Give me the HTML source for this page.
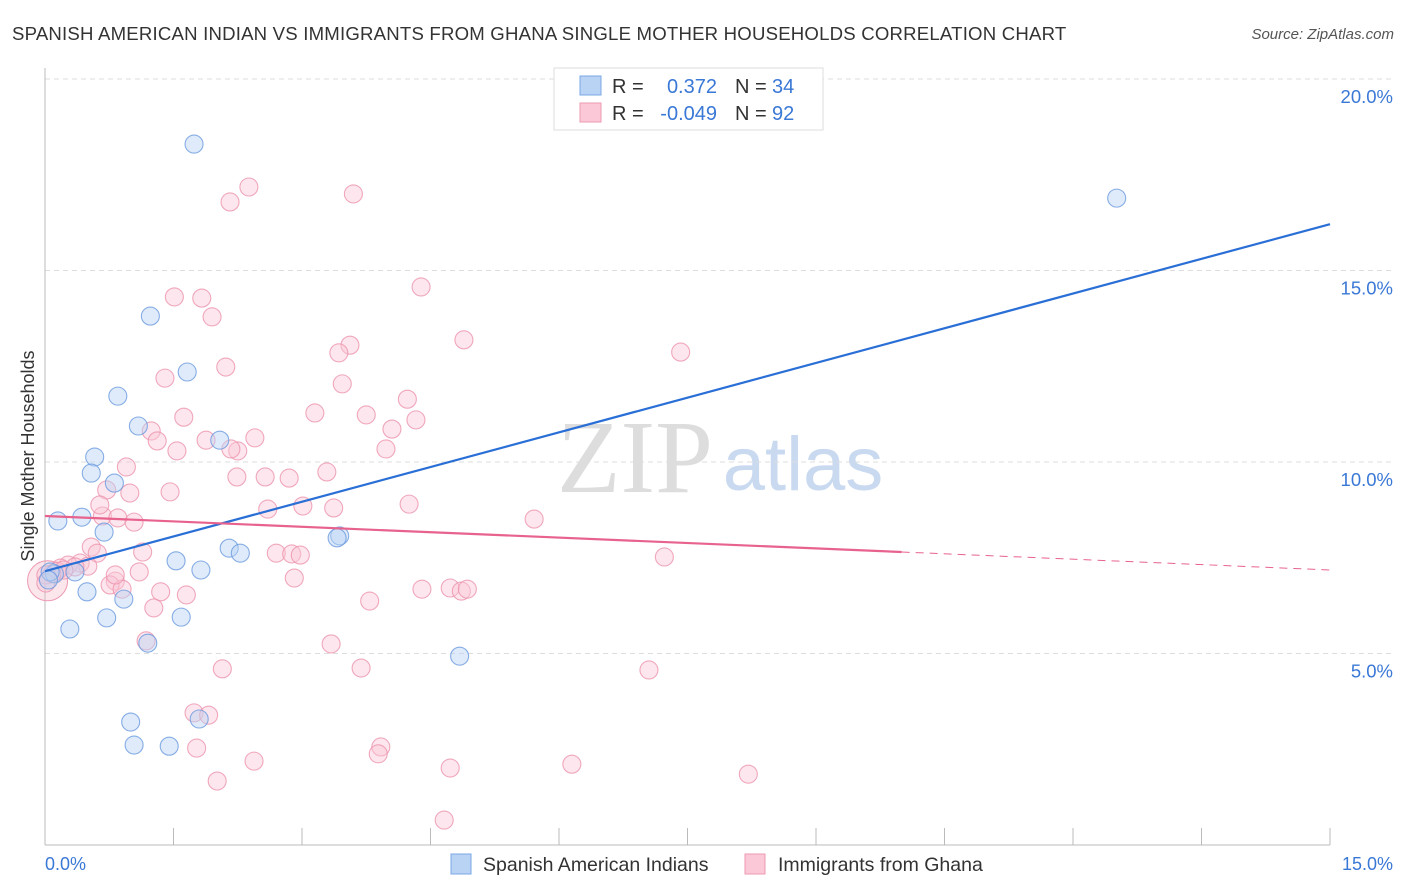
<!DOCTYPE html>
<html><head><meta charset="utf-8"><style>
body{margin:0;background:#fff;font-family:"Liberation Sans",sans-serif}
svg{display:block}
</style></head><body>
<svg id="chart" width="1406" height="892">
<text x="12" y="40" font-size="18.6" letter-spacing="0.2" fill="#333">SPANISH AMERICAN INDIAN VS IMMIGRANTS FROM GHANA SINGLE MOTHER HOUSEHOLDS CORRELATION CHART</text>
<text x="1394" y="39" font-size="15" fill="#555" font-style="italic" text-anchor="end">Source: ZipAtlas.com</text>
<text x="635" y="492" font-size="104" fill="#ddd" font-family="Liberation Serif" text-anchor="middle">ZIP</text>
<text x="803" y="490" font-size="76" fill="#c9d9f0" text-anchor="middle">atlas</text>
<g id="grid"></g><g id="axes"></g><g id="pts"></g><g id="trend"></g>
<text transform="translate(34,456) rotate(-90)" font-size="18" fill="#333" text-anchor="middle">Single Mother Households</text>
<text x="45" y="870" font-size="18" fill="#3a78d6">0.0%</text>
<text x="1393" y="870" font-size="18" fill="#3a78d6" text-anchor="end">15.0%</text>
<g>
<rect x="554" y="68" width="269" height="62" fill="#fff" stroke="#ddd"/>
<rect x="580" y="76" width="21" height="19" fill="#b9d3f5" stroke="#7aa7e6"/>
<rect x="580" y="103" width="21" height="19" fill="#fac8d6" stroke="#ee9ab3"/>
<text x="612" y="93" font-size="20" fill="#333">R =</text><text x="717" y="93" font-size="20" fill="#3a78d6" text-anchor="end">0.372</text>
<text x="735" y="93" font-size="20" fill="#333">N =</text><text x="772" y="93" font-size="20" fill="#3a78d6">34</text>
<text x="612" y="120" font-size="20" fill="#333">R =</text><text x="717" y="120" font-size="20" fill="#3a78d6" text-anchor="end">-0.049</text>
<text x="735" y="120" font-size="20" fill="#333">N =</text><text x="772" y="120" font-size="20" fill="#3a78d6">92</text>
</g>
<g>
<rect x="451" y="854" width="20" height="20" fill="#b9d3f5" stroke="#7aa7e6"/>
<text x="483" y="871" font-size="19.5" fill="#333">Spanish American Indians</text>
<rect x="745" y="854" width="20" height="20" fill="#fac8d6" stroke="#ee9ab3"/>
<text x="778" y="871" font-size="19.5" fill="#333">Immigrants from Ghana</text>
</g>
</svg>
<script>
const yTicks=[5,10,15,20];
const yTickLabels=["5.0%","10.0%","15.0%","20.0%"];
const xTicks=[0,1.5,3,4.5,6,7.5,9,10.5,12,13.5,15];
const blueX=[1.74,12.51,1.23,1.66,0.85,1.09,2.04,0.58,0.54,0.81,0.15,0.43,0.69,3.44,3.41,2.15,2.28,1.53,1.82,0.35,0.11,0.06,0.49,0.92,0.72,1.59,0.29,4.84,1.20,1.00,1.80,1.04,1.45,0.04];
const blueY=[18.30,16.89,13.81,12.35,11.72,10.94,10.57,10.13,9.71,9.45,8.46,8.56,8.17,8.07,8.02,7.75,7.62,7.42,7.18,7.13,7.08,7.13,6.61,6.42,5.93,5.95,5.64,4.93,5.27,3.21,3.29,2.61,2.58,6.92];
const pinkX=[2.38,2.16,3.60,4.39,1.51,1.83,1.95,4.89,3.56,3.43,7.42,2.11,1.40,3.47,4.23,3.15,1.62,3.75,4.33,1.24,4.05,1.88,2.45,1.31,1.54,2.25,2.17,3.98,0.95,3.29,2.24,2.57,2.85,0.72,0.99,1.46,4.25,2.60,3.01,3.37,5.71,0.67,0.85,1.04,1.14,0.54,0.61,2.70,2.88,2.98,7.23,0.41,0.50,0.27,0.18,0.14,0.35,0.22,0.08,1.10,2.91,0.82,0.76,0.90,1.35,1.65,1.27,4.40,4.73,4.86,4.93,3.79,1.18,3.34,2.07,3.69,7.05,1.74,1.91,1.77,3.92,3.89,2.44,4.73,6.15,2.01,8.21,4.66,0.01,0.01,0.64,0.82];
const pinkY=[17.18,16.79,17.00,14.57,14.31,14.28,13.79,13.19,13.05,12.85,12.87,12.48,12.19,12.04,11.64,11.28,11.17,11.23,11.10,10.81,10.86,10.57,10.63,10.55,10.29,10.29,10.34,10.34,9.87,9.74,9.61,9.61,9.58,9.27,9.19,9.22,8.90,8.77,8.85,8.80,8.51,8.59,8.54,8.43,7.65,7.78,7.62,7.62,7.60,7.57,7.52,7.36,7.28,7.31,7.23,7.15,7.26,7.18,7.08,7.13,6.97,6.89,6.79,6.68,6.61,6.53,6.19,6.68,6.71,6.63,6.68,6.37,5.33,5.25,4.60,4.62,4.57,3.45,3.39,2.53,2.56,2.38,2.19,2.01,2.11,1.67,1.85,0.65,7.05,6.84,8.88,7.05];
const blueTrend=[7.15,16.21];
const pinkTrend=[8.59,7.18];
const pinkSolidEnd=10;
const X=v=>45+v/15*1285, Y=v=>845-v/5*191.5;
const NS="http://www.w3.org/2000/svg";
function mk(par,tag,attrs){const e=document.createElementNS(NS,tag);for(const k in attrs)e.setAttribute(k,attrs[k]);document.getElementById(par).appendChild(e);return e;}
yTicks.forEach((t,i)=>{
 const g=mk('grid','line',{x1:45,x2:1393,y1:Y(t),y2:Y(t),stroke:'#ddd','stroke-dasharray':'5,4'});
 
 
 const l=mk('grid','text',{x:1393,y:Y(t)+24,'font-size':18.5,fill:'#3a78d6','text-anchor':'end'});
 l.textContent=yTickLabels[i];
 
 
});
const ax=mk('axes','line',{x1:45,x2:45,y1:68,y2:845,stroke:'#bbb'});


const bx=mk('axes','line',{x1:45,x2:1330,y1:845,y2:845,stroke:'#bbb'});


xTicks.forEach(t=>{
 const k=mk('axes','line',{x1:X(t),x2:X(t),y1:828,y2:845,stroke:'#bbb'});
 
 
});
function dots(xs,ys,fill,stroke,name){
 xs.forEach((x,i)=>{
  const c=mk('pts','circle',{cx:X(x),cy:Y(ys[i]),r:9,fill:fill,'fill-opacity':0.45,stroke:stroke,'stroke-opacity':0.8,'stroke-width':1.1});
  
  
 });
}
const big=mk('pts','circle',{cx:X(0.03),cy:Y(6.9),r:20,fill:'#f4b8c9','fill-opacity':0.35,stroke:'#ee9ab3'});


dots(pinkX,pinkY,'#fac8d6','#ec93ad','point-ghana');
dots(blueX,blueY,'#b9d3f5','#6a9ade','point-spanish');
const bt=mk('trend','line',{x1:X(0),y1:Y(blueTrend[0]),x2:X(15),y2:Y(blueTrend[1]),stroke:'#2a6fd6','stroke-width':2.2});


const pm=(pinkTrend[1]-pinkTrend[0])/15;
const pt=mk('trend','line',{x1:X(0),y1:Y(pinkTrend[0]),x2:X(pinkSolidEnd),y2:Y(pinkTrend[0]+pm*pinkSolidEnd),stroke:'#e8628e','stroke-width':2.2});


const pd=mk('trend','line',{x1:X(pinkSolidEnd),y1:Y(pinkTrend[0]+pm*pinkSolidEnd),x2:X(15),y2:Y(pinkTrend[1]),stroke:'#e8628e','stroke-width':1,'stroke-dasharray':'8,6'});


</script>
</body></html>
